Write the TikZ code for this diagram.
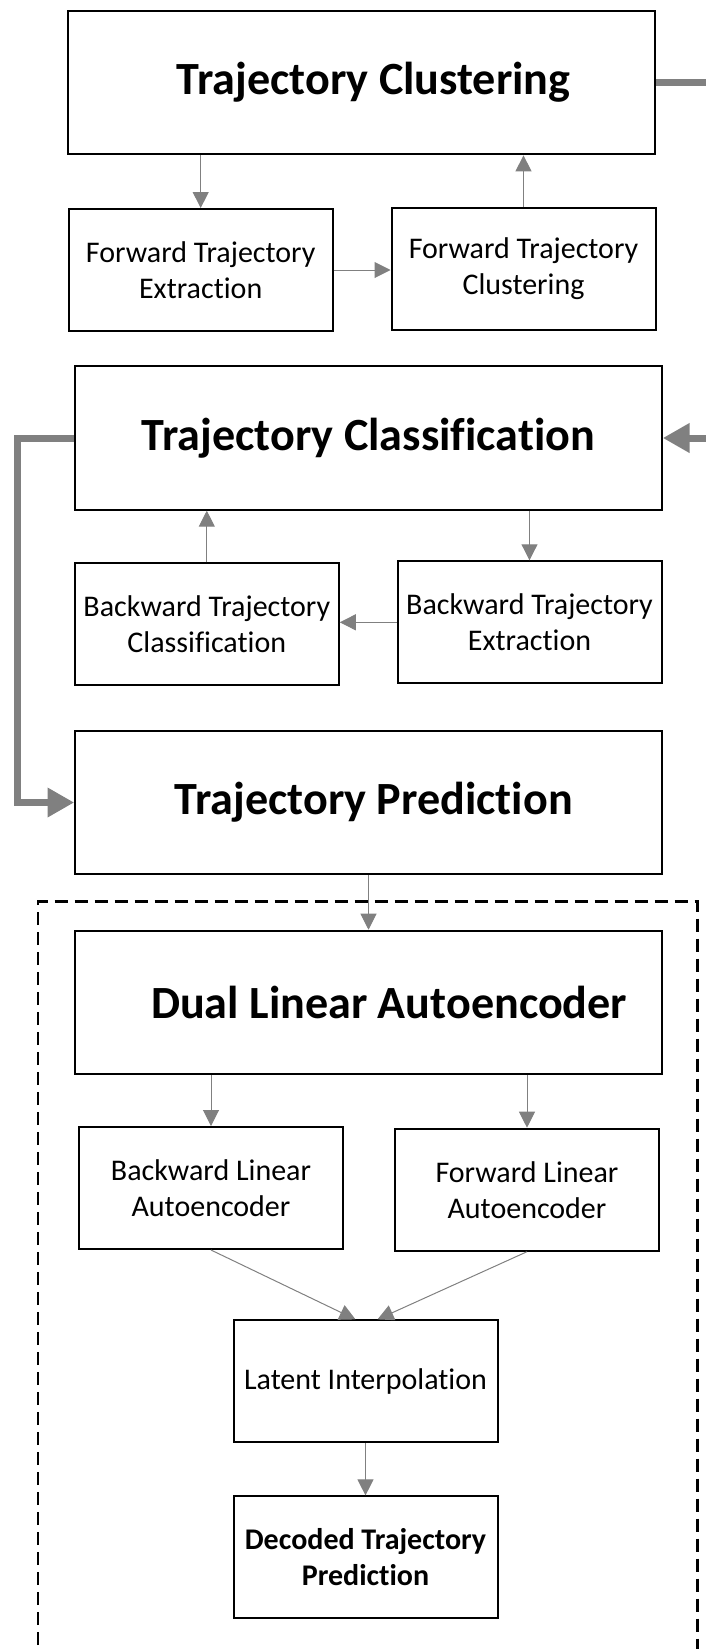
\documentclass[tikz,border=0pt]{standalone}
\usepackage{fontspec}
\setmainfont{Carlito}[Ligatures={NoCommon}]
\usetikzlibrary{arrows.meta}
\definecolor{arrowgray}{RGB}{128,128,128}
\begin{document}
\begin{tikzpicture}[x=0.75pt,y=-0.75pt,
  box/.style={draw=black, line width=1.5pt, rectangle, inner sep=0pt, align=center, fill=white},
  bigbox/.style={box, minimum width=440pt, minimum height=107.5pt, font=\fontsize{34.6}{41}\selectfont\bfseries},
  smallbox/.style={box, minimum width=198pt, minimum height=91.5pt, font=\fontsize{22.5}{27}\selectfont},
  thinarrow/.style={draw=arrowgray, line width=0.75pt, -{Triangle[length=12pt,width=12pt]}},
  thickarrow/.style={draw=arrowgray, line width=5.25pt, -{Triangle[length=20pt,width=21pt]}},
  dashframe/.style={draw=black, line width=2pt, dash pattern=on 9.75pt off 5.25pt}
]
\useasboundingbox (0,0) rectangle (706,1649);

% dashed frame
\draw[dashframe] (38,1665) -- (38,901.7) -- (697.7,901.7) -- (697.7,1665);

% boxes
\node[bigbox] (tc) at (361.7,82.7) {\kern18pt Trajectory Clustering};
\node[smallbox] (fte) at (200.7,270) {Forward Trajectory\\Extraction};
\node[smallbox] (ftc) at (523.5,268.5) {Forward Trajectory\\Clustering};
\node[bigbox] (tcl) at (368.5,438) {Trajectory Classification};
\node[smallbox] (btc) at (206.8,624.3) {Backward Trajectory\\Classification};
\node[smallbox] (bte) at (529.5,622.3) {Backward Trajectory\\Extraction};
\node[bigbox] (tp) at (368.5,802.5) {\kern8pt Trajectory Prediction};
\node[bigbox] (dla) at (368.5,1002.4) {\kern31pt Dual Linear Autoencoder};
\node[smallbox] (bla) at (211,1188) {Backward Linear\\Autoencoder};
\node[smallbox] (fla) at (527,1189.7) {Forward Linear\\Autoencoder};
\node[smallbox] (li) at (365.5,1381.4) {Latent Interpolation};
\node[smallbox, font=\fontsize{22.5}{27}\selectfont\bfseries] (dtp) at (365.5,1557.4) {Decoded Trajectory\\Prediction};

% rails for thick connectors
\coordinate (rrail) at (709,0);
\coordinate (lrail) at (17,0);

% thick connectors
\draw[thickarrow] (tc.east) -| (rrail |- tcl.east) -- (tcl.east);
\draw[thickarrow] (tcl.west) -| (lrail |- tp.west) -- (tp.west);

% thin connectors
\draw[thinarrow] (tc.south -| fte.north) -- (fte.north);
\draw[thinarrow] (ftc.north) -- (ftc.north |- tc.south);
\draw[thinarrow] (fte.east) -- (fte.east -| ftc.west);
\draw[thinarrow] (tcl.south -| bte.north) -- (bte.north);
\draw[thinarrow] (btc.north) -- (btc.north |- tcl.south);
\draw[thinarrow] (bte.west) -- (bte.west -| btc.east);
\draw[thinarrow] (tp.south) -- (tp.south |- dla.north);
\draw[thinarrow] (dla.south -| bla.north) -- (bla.north);
\draw[thinarrow] (dla.south -| fla.north) -- (fla.north);
\draw[thinarrow] (bla.south) -- ([xshift=-7.5pt]li.north);
\draw[thinarrow] (fla.south) -- ([xshift=9pt]li.north);
\draw[thinarrow] (li.south) -- (dtp.north);
\end{tikzpicture}
\end{document}
